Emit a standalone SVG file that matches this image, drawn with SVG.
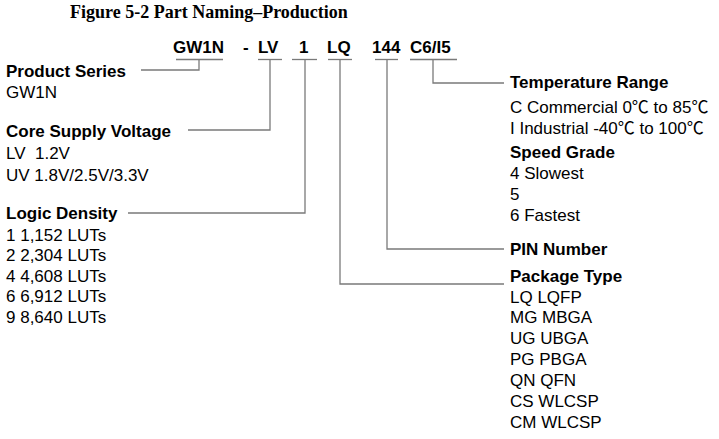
<svg xmlns="http://www.w3.org/2000/svg" width="719" height="439" viewBox="0 0 719 439">
<style>
.t{font-family:"Liberation Sans","Noto Sans CJK SC",Arial,sans-serif;font-size:17px;fill:#000}
.b{font-weight:bold}
.title{font-family:"Liberation Serif","Noto Serif",serif;font-weight:bold;font-size:18px;fill:#000}
.c{fill:none;stroke:#7a7a7a;stroke-width:1.3}
</style>
<rect width="719" height="439" fill="#fff"/>
<text class="title" x="70" y="18">Figure 5-2 Part Naming–Production</text>
<g id="code">
<text class="t b" x="173" y="53">GW1N</text>
<text class="t b" x="243" y="53">-</text>
<text class="t b" x="258" y="53">LV</text>
<text class="t b" x="299" y="53">1</text>
<text class="t b" x="327" y="53">LQ</text>
<text class="t b" x="372" y="53">144</text>
<text class="t b" x="410" y="53">C6/I5</text>
</g>
<g id="connectors">
<line class="c" x1="176" y1="59.5" x2="223" y2="59.5"/>
<line class="c" x1="258" y1="59.5" x2="282" y2="59.5"/>
<line class="c" x1="292" y1="59.5" x2="317" y2="59.5"/>
<line class="c" x1="328" y1="59.5" x2="352" y2="59.5"/>
<line class="c" x1="375" y1="59.5" x2="398" y2="59.5"/>
<line class="c" x1="410" y1="59.5" x2="457" y2="59.5"/>
<polyline class="c" points="199,59.5 199,70 141,70"/>
<polyline class="c" points="270,59.5 270,130 188,130"/>
<polyline class="c" points="305,59.5 305,213 128,213"/>
<polyline class="c" points="340,59.5 340,284 504,284"/>
<polyline class="c" points="387,59.5 387,249 504,249"/>
<polyline class="c" points="433,59.5 433,83 504,83"/>
</g>
<g id="product-series">
<text class="t b" x="6" y="77">Product Series</text>
<text class="t" x="6" y="98">GW1N</text>
</g>
<g id="core-supply-voltage">
<text class="t b" x="6" y="137">Core Supply Voltage</text>
<text class="t" x="6" y="159" xml:space="preserve">LV  1.2V</text>
<text class="t" x="6" y="181">UV 1.8V/2.5V/3.3V</text>
</g>
<g id="logic-density">
<text class="t b" x="6" y="219">Logic Density</text>
<text class="t" x="6" y="240.5">1 1,152 LUTs</text>
<text class="t" x="6" y="261">2 2,304 LUTs</text>
<text class="t" x="6" y="281.5">4 4,608 LUTs</text>
<text class="t" x="6" y="302">6 6,912 LUTs</text>
<text class="t" x="6" y="322.5">9 8,640 LUTs</text>
</g>
<g id="temperature-range">
<text class="t b" x="510" y="88">Temperature Range</text>
<text class="t" x="510" y="113">C Commercial 0℃ to 85℃</text>
<text class="t" x="510" y="134">I Industrial -40℃ to 100℃</text>
</g>
<g id="speed-grade">
<text class="t b" x="510" y="158">Speed Grade</text>
<text class="t" x="510" y="179">4 Slowest</text>
<text class="t" x="510" y="200">5</text>
<text class="t" x="510" y="220.5">6 Fastest</text>
</g>
<g id="pin-number">
<text class="t b" x="510" y="254.5">PIN Number</text>
</g>
<g id="package-type">
<text class="t b" x="510" y="282">Package Type</text>
<text class="t" x="510" y="302.5">LQ LQFP</text>
<text class="t" x="510" y="323">MG MBGA</text>
<text class="t" x="510" y="344">UG UBGA</text>
<text class="t" x="510" y="365">PG PBGA</text>
<text class="t" x="510" y="386">QN QFN</text>
<text class="t" x="510" y="407">CS WLCSP</text>
<text class="t" x="510" y="428">CM WLCSP</text>
</g>
</svg>
